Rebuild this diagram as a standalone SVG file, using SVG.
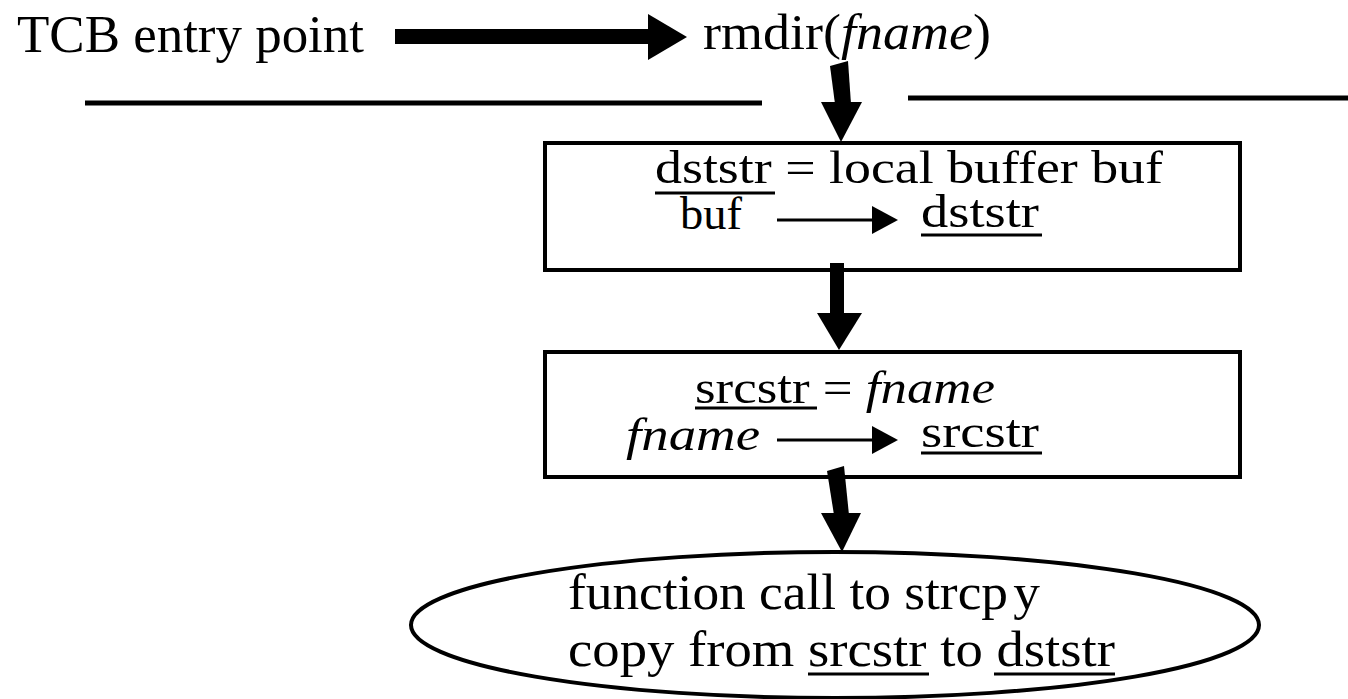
<svg xmlns="http://www.w3.org/2000/svg" width="1348" height="699" viewBox="0 0 1348 699">
  <style>
    .t { font-family: "Liberation Serif", "Times New Roman", serif; fill: #000; }
    .i { font-style: italic; }
    .box { fill: #fff; stroke: #000; stroke-width: 4; }
    .ul { stroke: #000; stroke-width: 3; }
    .thin { stroke: #000; stroke-width: 3; }
    .rule { stroke: #000; stroke-width: 5; }
    .head { fill: #000; }
  </style>
  <rect width="1348" height="699" fill="#fff"/>

  <g id="entry-label">
    <text class="t" x="17" y="52" font-size="53" textLength="347" lengthAdjust="spacingAndGlyphs">TCB entry point</text>
  </g>

  <g id="rmdir">
    <text class="t" x="703" y="49" font-size="50" textLength="288" lengthAdjust="spacingAndGlyphs">rmdir(<tspan class="i">fname</tspan>)</text>
  </g>

  <g id="boundary">
    <line class="rule" x1="85" y1="103" x2="762" y2="103"/>
    <line class="rule" x1="908" y1="98" x2="1348" y2="98"/>
  </g>

  <g id="box-dststr">
    <rect class="box" x="545" y="143" width="695" height="127"/>
    <text class="t" x="655" y="183" font-size="46" textLength="508" lengthAdjust="spacingAndGlyphs">dststr = local buffer buf</text>
    <line class="ul" x1="655" y1="193" x2="775" y2="193"/>
    <text class="t" x="680" y="229" font-size="47" textLength="62" lengthAdjust="spacingAndGlyphs">buf</text>
    <line class="thin" x1="777" y1="220" x2="876" y2="220"/>
    <polygon class="head" points="872,206 898,220 872,234"/>
    <text class="t" x="921" y="227" font-size="46" textLength="118" lengthAdjust="spacingAndGlyphs">dststr</text>
    <line class="ul" x1="921" y1="235" x2="1042" y2="235"/>
  </g>

  <g id="box-srcstr">
    <rect class="box" x="545" y="352" width="695" height="125"/>
    <text class="t" x="695" y="403" font-size="46" textLength="300" lengthAdjust="spacingAndGlyphs">srcstr = <tspan class="i">fname</tspan></text>
    <line class="ul" x1="695" y1="408" x2="817" y2="408"/>
    <text class="t i" x="626" y="450" font-size="46" textLength="134" lengthAdjust="spacingAndGlyphs">fname</text>
    <line class="thin" x1="777" y1="440" x2="876" y2="440"/>
    <polygon class="head" points="872,426 898,440 872,454"/>
    <text class="t" x="921" y="447" font-size="46" textLength="118" lengthAdjust="spacingAndGlyphs">srcstr</text>
    <line class="ul" x1="921" y1="453" x2="1042" y2="453"/>
  </g>

  <g id="strcpy-call">
    <ellipse cx="835" cy="625" rx="424" ry="73" fill="#fff" stroke="#000" stroke-width="4"/>
    <text class="t" x="568" y="609" font-size="50" textLength="472" lengthAdjust="spacingAndGlyphs">function call to strcp<tspan dx="5">y</tspan></text>
    <text class="t" x="568" y="666" font-size="50" textLength="547" lengthAdjust="spacingAndGlyphs">copy from srcstr to dststr</text>
    <line class="ul" x1="808" y1="674" x2="929" y2="674"/>
    <line class="ul" x1="994" y1="674" x2="1115" y2="674"/>
  </g>

  <g id="connectors">
    <rect x="395" y="29" width="257" height="15" fill="#000"/>
    <polygon class="head" points="648,14 687,37 648,60"/>
    <polygon class="head" points="830,66 848,61 851,104 835,104"/>
    <polygon class="head" points="821,102 862,102 841,142"/>
    <rect x="830" y="263" width="14" height="52" fill="#000"/>
    <polygon class="head" points="817,313 862,313 839,350"/>
    <polygon class="head" points="827,471 844,466 849,515 834,515"/>
    <polygon class="head" points="821,513 861,513 842,552"/>
  </g>
</svg>
